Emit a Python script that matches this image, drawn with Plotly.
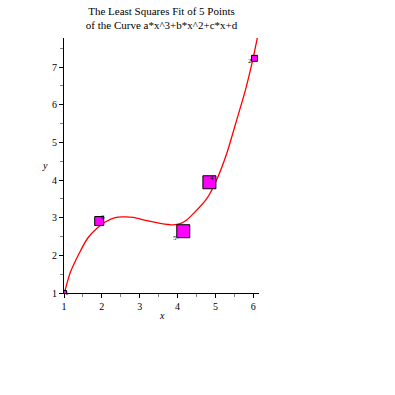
import plotly.graph_objects as go

# data points (weighted)
px_ = [1.0, 1.93, 4.15, 4.84, 6.03]
py_ = [1.0, 2.91, 2.64, 3.94, 7.23]
psize = [5, 9, 13, 13, 6]
plabels = ["1", "6", "5", "4", "2"]

# fitted curve
cx = [1.0, 1.03, 1.16, 1.42, 1.63, 1.87, 2.08, 2.35, 2.55, 2.83, 3.19, 3.54, 3.89, 4.07, 4.24, 4.41, 4.78, 5.03, 5.30, 5.56, 5.79, 5.97, 6.11]
cy = [1.0, 1.08, 1.53, 2.09, 2.46, 2.72, 2.88, 3.0, 3.02, 3.01, 2.92, 2.85, 2.81, 2.84, 2.94, 3.1, 3.52, 4.0, 4.71, 5.59, 6.38, 7.12, 7.79]

xticks = [1, 2, 3, 4, 5, 6]
yticks = [1, 2, 3, 4, 5, 6, 7]

font = "Liberation Serif, Times New Roman, serif"

fig = go.Figure()
fig.add_trace(go.Scatter(x=cx, y=cy, mode="lines", line=dict(color="#ff0000", width=1.3, shape="spline", smoothing=0.5),
                         hoverinfo="skip", showlegend=False))
fig.add_trace(go.Scatter(x=px_, y=py_, mode="markers",
                         marker=dict(symbol="square", size=psize, color="#ff00ff", opacity=1,
                                     line=dict(color="black", width=1)),
                         showlegend=False))
offs = [(3, 0), (4, 4), (-8, -7), (3, 4), (-4, -3)]
for x, y, t, (dx, dy) in zip(px_, py_, plabels, offs):
    fig.add_annotation(x=x, y=y, text=t, showarrow=False, xshift=dx, yshift=dy,
                       font=dict(family=font, size=7, color="black"))

fig.add_annotation(xref="paper", yref="paper", x=0.5, y=-0.09, text="<i>x</i>", showarrow=False,
                   yanchor="middle", font=dict(family=font, size=10, color="black"))
fig.add_annotation(xref="paper", yref="paper", x=-0.1, y=0.5, text="<i>y</i>", showarrow=False,
                   xanchor="center", yanchor="middle", font=dict(family=font, size=10, color="black"))

fig.update_layout(
    width=395, height=395,
    margin=dict(l=64, r=136, t=38, b=102),
    paper_bgcolor="white", plot_bgcolor="white",
    title=dict(text="The Least Squares Fit of 5 Points<br>of the Curve a*x^3+b*x^2+c*x+d",
               x=(64 + 259) / 2 / 395, xref="container", xanchor="center",
               y=1, yref="container", yanchor="top", pad=dict(t=15),
               font=dict(family=font, size=11, color="black")),
    font=dict(family=font, size=10, color="black"),
)
fig.update_xaxes(range=[1, 6.15], tickvals=xticks, showgrid=False, zeroline=False, automargin=False,
                 showline=True, linecolor="black", linewidth=1, ticks="outside", ticklen=4,
                 tickcolor="black",
                 minor=dict(dtick=0.5, tick0=1, ticks="outside", ticklen=3, tickcolor="gray"),
                 tickfont=dict(family=font, size=10))
fig.update_yaxes(range=[1, 7.77], tickvals=yticks, showgrid=False, zeroline=False, automargin=False,
                 showline=True, linecolor="black", linewidth=1, ticks="outside", ticklen=4,
                 tickcolor="black",
                 minor=dict(dtick=0.5, tick0=1, ticks="outside", ticklen=3, tickcolor="gray"),
                 tickfont=dict(family=font, size=10))

fig.write_html("out.html", config={"displayModeBar": False},
               post_script="document.body.style.margin='0px';")
